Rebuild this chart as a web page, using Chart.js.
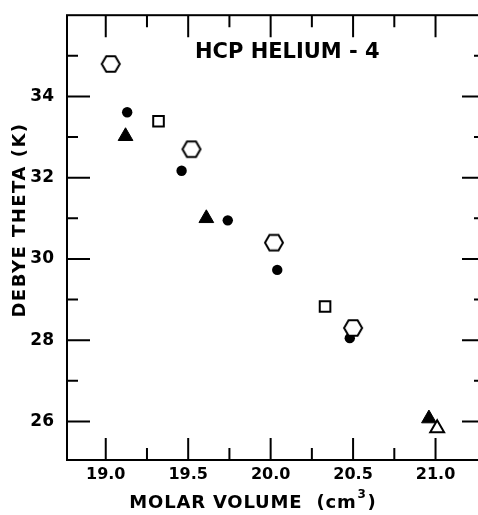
<!DOCTYPE html>
<html>
<head>
<meta charset="utf-8">
<script src="https://cdn.jsdelivr.net/npm/chart.js@4.4.0/dist/chart.umd.min.js"></script>
<style>
  html, body { margin: 0; padding: 0; background: #fff; overflow: hidden; }
  #wrap { width: 478px; height: 515px; overflow: hidden; position: relative; }
</style>
</head>
<body>
<div id="wrap"><canvas id="debye" width="495" height="515"></canvas></div>
<script>
// Debye theta vs molar volume, hcp 4He
const hexX = [19.03, 19.52, 20.02, 20.50];
const hexY = [34.8, 32.7, 30.4, 28.3];
const circleX = [19.13, 19.46, 19.74, 20.04, 20.48];
const circleY = [33.61, 32.17, 30.95, 29.73, 28.05];
const triX = [19.12, 19.61, 20.96];
const triY = [33.02, 31.0, 26.07];
const openTriX = [21.01];
const openTriY = [25.83];
const squareX = [19.32, 20.33];
const squareY = [33.39, 28.83];

// axis ticks
const xLabels = [19.0, 19.5, 20.0, 20.5, 21.0];
const xMinor = [19.25, 19.75, 20.25, 20.75];
const yLabels = [26, 28, 30, 32, 34];
const yMinor = [27, 29, 31, 33, 35];

const FONT = '"DejaVu Sans", sans-serif';

function pts(xs, ys) {
    return xs.map((x, i) => ({ x: x, y: ys[i] }));
}

// open hexagon marker (not built into Chart.js)
function makeHexagon(r) {
    const c = document.createElement('canvas');
    c.width = 2 * r + 4;
    c.height = 2 * r + 4;
    const g = c.getContext('2d');
    const cx = c.width / 2, cy = c.height / 2;
    g.beginPath();
    for (let i = 0; i < 6; i++) {
        const a = i * Math.PI / 3;
        const px = cx + r * Math.cos(a), py = cy + r * Math.sin(a);
        if (i === 0) g.moveTo(px, py); else g.lineTo(px, py);
    }
    g.closePath();
    g.fillStyle = '#fff';
    g.fill();
    g.lineWidth = 2;
    g.strokeStyle = '#000';
    g.stroke();
    return c;
}
const hexagon = makeHexagon(9);

// frame, inward ticks and the hand-lettered titles
const framePlugin = {
    id: 'frame',
    afterDraw(chart) {
        const { ctx, chartArea: a, scales } = chart;
        const sx = scales.x, sy = scales.y;
        ctx.save();
        ctx.strokeStyle = '#000';
        ctx.lineWidth = 2;
        ctx.strokeRect(a.left, a.top, a.right - a.left, a.bottom - a.top);

        ctx.beginPath();
        const xTick = (v, len) => {
            const px = sx.getPixelForValue(v);
            ctx.moveTo(px, a.bottom); ctx.lineTo(px, a.bottom - len);
            ctx.moveTo(px, a.top); ctx.lineTo(px, a.top + len);
        };
        const yTick = (v, len) => {
            const py = sy.getPixelForValue(v);
            ctx.moveTo(a.left, py); ctx.lineTo(a.left + len, py);
            ctx.moveTo(a.right, py); ctx.lineTo(a.right - len, py);
        };
        xLabels.forEach(v => xTick(v, 22));
        xMinor.forEach(v => xTick(v, 12));
        yLabels.forEach(v => yTick(v, 23));
        yMinor.forEach(v => yTick(v, 11));
        ctx.stroke();

        ctx.fillStyle = '#000';
        ctx.textBaseline = 'middle';

        // inset label
        ctx.font = 'bold 21px ' + FONT;
        ctx.textAlign = 'left';
        ctx.fillText('HCP HELIUM - 4', 195, 53);

        // x title with superscript
        ctx.font = 'bold 18px ' + FONT;
        ctx.letterSpacing = '0.8px';
        const t1 = 'MOLAR VOLUME  (cm';
        const w1 = ctx.measureText(t1).width;
        ctx.font = 'bold 12px ' + FONT;
        const w2 = ctx.measureText('3').width + 2;
        ctx.font = 'bold 18px ' + FONT;
        const w3 = ctx.measureText(')').width;
        let x0 = 253 - (w1 + w2 + w3) / 2;
        ctx.fillText(t1, x0, 503);
        ctx.font = 'bold 12px ' + FONT;
        ctx.fillText('3', x0 + w1 + 1, 495);
        ctx.font = 'bold 18px ' + FONT;
        ctx.fillText(')', x0 + w1 + w2, 503);

        // y title
        ctx.translate(20, 220);
        ctx.rotate(-Math.PI / 2);
        ctx.textAlign = 'center';
        ctx.letterSpacing = '1.5px';
        ctx.fillText('DEBYE THETA (K)', 0, 0);
        ctx.restore();
    }
};

const ctx = document.getElementById('debye').getContext('2d');

new Chart(ctx, {
    type: 'scatter',
    data: {
        datasets: [
            {
                label: 'hexagon',
                data: pts(hexX, hexY),
                pointStyle: hexagon,
                pointRadius: 9
            },
            {
                label: 'square',
                data: pts(squareX, squareY),
                pointStyle: 'rect',
                pointRadius: 7.5,
                backgroundColor: '#fff',
                borderColor: '#000',
                borderWidth: 2
            },
            {
                label: 'open triangle',
                data: pts(openTriX, openTriY),
                pointStyle: 'triangle',
                pointRadius: 8,
                backgroundColor: '#fff',
                borderColor: '#000',
                borderWidth: 2
            },
            {
                label: 'triangle',
                data: pts(triX, triY),
                pointStyle: 'triangle',
                pointRadius: 8.5,
                backgroundColor: '#000',
                borderColor: '#000',
                borderWidth: 1
            },
            {
                label: 'circle',
                data: pts(circleX, circleY),
                pointStyle: 'circle',
                pointRadius: 5.2,
                backgroundColor: '#000',
                borderColor: '#000',
                borderWidth: 0
            }
        ]
    },
    options: {
        responsive: false,
        animation: false,
        devicePixelRatio: 1,
        layout: {
            padding: { top: 10, right: 7, left: 0, bottom: 0 }
        },
        plugins: {
            legend: { display: false },
            tooltip: { enabled: false }
        },
        scales: {
            x: {
                type: 'linear',
                min: 18.765,
                max: 21.3,
                grid: { display: false },
                border: { display: false },
                afterBuildTicks: s => { s.ticks = xLabels.map(v => ({ value: v })); },
                afterFit: s => { s.height = 55; },
                ticks: {
                    autoSkip: false,
                    maxRotation: 0,
                    padding: -3,
                    color: '#000',
                    font: { family: FONT, size: 16, weight: 'bold' },
                    callback: v => Number(v).toFixed(1)
                }
            },
            y: {
                type: 'linear',
                min: 25.05,
                max: 36.0,
                grid: { display: false },
                border: { display: false },
                afterBuildTicks: s => { s.ticks = yLabels.map(v => ({ value: v })); },
                afterFit: s => { s.width = 67; },
                ticks: {
                    autoSkip: false,
                    padding: 5,
                    color: '#000',
                    font: { family: FONT, size: 17, weight: 'bold' }
                }
            }
        }
    },
    plugins: [framePlugin]
});
</script>
</body>
</html>
